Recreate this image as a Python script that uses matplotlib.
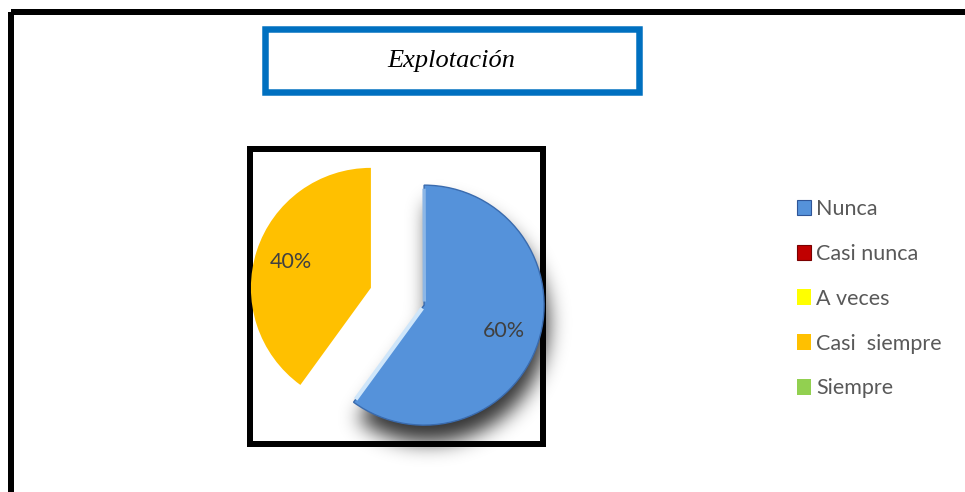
import matplotlib
matplotlib.use("Agg")
import matplotlib.pyplot as plt
import numpy as np
from matplotlib.patches import Rectangle, Patch

# Survey answers for "Explotación" (percent of respondents)
categories = ["Nunca", "Casi nunca", "A veces", "Casi  siempre", "Siempre"]
percentages = [60, 0, 0, 40, 0]
colors = ["#5592DA", "#C00000", "#FFFF00", "#FFC000", "#92D050"]
legend_edges = ["#2F5597", "#7A0000", "none", "none", "none"]
title = "Explotación"

W, H = 965, 492
DPI = 100

fig = plt.figure(figsize=(W / DPI, H / DPI), dpi=DPI)
fig.patch.set_facecolor("white")

# background layer in pixel units for the frames
bg = fig.add_axes([0, 0, 1, 1])
bg.set_xlim(0, W)
bg.set_ylim(H, 0)
bg.axis("off")

px = 0.72  # points per pixel at 100 dpi
bg.add_patch(Rectangle((11, 12), W + 20, H + 20, fill=False, ec="black", lw=6 * px, zorder=1))
bg.add_patch(Rectangle((264.5, 29), 374, 63, fill=False, ec="#0070C0", lw=6.5 * px, zorder=1))
bg.add_patch(Rectangle((250, 149), 293, 295, fill=False, ec="black", lw=6 * px, zorder=1))
bg.text(451.5, 61, title, ha="center", va="center", fontsize=19,
        family="Liberation Serif", style="italic", color="black")

# pie axes: centred in the black square, radius 120 px
cx, cy, half = 397.5, 296.5, 150
R = 120
ax = fig.add_axes([(cx - half) / W, (H - cy - half) / H, 2 * half / W, 2 * half / H])
ax.patch.set_alpha(0)

shown = [(c, p, col) for c, p, col in zip(categories, percentages, colors) if p > 0]
vals = [p for _, p, _ in shown]
wedges, texts, autotexts = ax.pie(
    vals,
    colors=[col for _, _, col in shown],
    startangle=90,
    counterclock=False,
    explode=[0.233] * len(vals),
    autopct="%1.0f%%",
    pctdistance=0.7,
    textprops=dict(fontsize=15.5, color="#404040", family="Lato"),
    wedgeprops=dict(linewidth=0),
)
lim = half / R
ax.set_aspect("equal")

# soft drop shadow and bevel on the "Nunca" wedge
w = wedges[0]
w.set_edgecolor("#3A6BAE")
w.set_linewidth(1.0)
w.set_zorder(3)
wx, wy = w.center
t1, t2 = w.theta1, w.theta2

n = 400
ext = 1.7
g = np.linspace(-ext, ext, n)
gx, gy = np.meshgrid(g, g)
sx, sy = wx + 0.03, wy - 0.15
dx, dy = gx - sx, gy - sy
ang = np.degrees(np.arctan2(dy, dx))
inside = (np.hypot(dx, dy) <= w.r) & (((ang - t1) % 360) <= (t2 - t1))
mask = inside.astype(float)
sig = 10.0 * n / (2 * ext * R)
k = np.arange(-int(3 * sig), int(3 * sig) + 1)
kern = np.exp(-0.5 * (k / sig) ** 2)
kern /= kern.sum()
mask = np.apply_along_axis(lambda r: np.convolve(r, kern, mode="same"), 0, mask)
mask = np.apply_along_axis(lambda r: np.convolve(r, kern, mode="same"), 1, mask)
shadow = np.zeros((n, n, 4))
shadow[..., 3] = mask * 0.8
ax.imshow(shadow, extent=(-ext, ext, -ext, ext), origin="lower",
          zorder=2, clip_on=False, interpolation="bilinear")
ax.set_xlim(-lim, lim)
ax.set_ylim(-lim, lim)

# light highlight along both straight edges
for th, col, lw in [(t1, "#CFE6FA", 3.0), (t2, "#8DB7E6", 2.4)]:
    a = np.radians(th)
    off = np.radians(th + (4 if th == t1 else -4))
    ax.plot([wx + 0.03 * np.cos(off), wx + 0.97 * w.r * np.cos(a)],
            [wy + 0.03 * np.sin(off), wy + 0.97 * w.r * np.sin(a)],
            color=col, lw=lw, solid_capstyle="butt", zorder=4)
for t in autotexts:
    t.set_zorder(5)

handles = [Patch(facecolor=col, edgecolor=ec, linewidth=0.8)
           for col, ec in zip(colors, legend_edges)]
leg = fig.legend(handles, categories, loc="upper left",
                 bbox_to_anchor=(788 / W, 1 - 190 / H), frameon=False,
                 prop=dict(family="Lato", size=15.5), labelcolor="#595959",
                 handlelength=0.65, handleheight=0.7, handletextpad=0.25,
                 labelspacing=1.16, borderaxespad=0)

fig.savefig("out.png", dpi=DPI)
